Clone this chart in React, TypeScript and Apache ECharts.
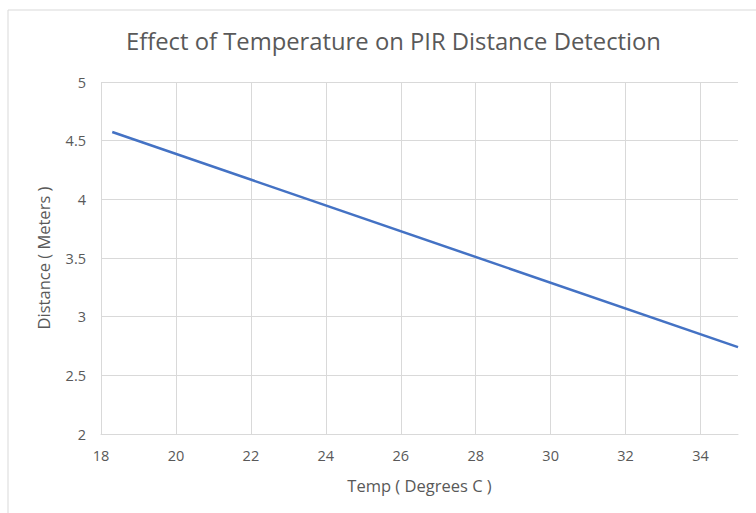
import React, { useEffect, useRef } from "react";
import * as echarts from "echarts";

const temps = [18.3, 35];
const distances = [4.574, 2.74];
const xTicks = [18, 20, 22, 24, 26, 28, 30, 32, 34];

export default function App() {
  const ref = useRef<HTMLDivElement>(null);
  useEffect(() => {
    const chart = echarts.init(ref.current!, null, { renderer: "svg" });
    const font = "'Open Sans', sans-serif";
    const grid = "#d9d9d9";
    chart.setOption({
      animation: false,
      backgroundColor: "#ffffff",
      title: {
        text: "Effect of Temperature on PIR Distance Detection",
        left: 121,
        top: 24,
        textStyle: { fontFamily: font, fontSize: 23.8, fontWeight: "normal", color: "#595959" },
      },
      graphic: [
        {
          type: "line",
          shape: { x1: 8, y1: 10, x2: 756, y2: 10 },
          style: { stroke: grid, lineWidth: 1 },
        },
        {
          type: "line",
          shape: { x1: 8, y1: 10, x2: 8, y2: 513 },
          style: { stroke: grid, lineWidth: 1 },
        },
      ],
      grid: { left: 101, right: 18, top: 82, bottom: 79 },
      xAxis: {
        type: "value",
        min: 18,
        max: 35,
        interval: 2,
        name: "Temp ( Degrees C )",
        nameLocation: "middle",
        nameGap: 43,
        nameTextStyle: { fontFamily: font, fontSize: 16.5, color: "#595959" },
        axisLine: { show: true, lineStyle: { color: grid, width: 1 } },
        axisTick: { show: false },
        axisLabel: {
          showMaxLabel: false,
          fontFamily: font,
          fontSize: 14.5,
          color: "#595959",
          margin: 14,
          formatter: (v: number) => (xTicks.includes(v) ? String(v) : ""),
        },
        splitLine: {
          show: true,
          lineStyle: {
            color: [grid, grid, grid, grid, grid, grid, grid, grid, grid, "rgba(0,0,0,0)"],
            width: 1,
          },
        },
      },
      yAxis: {
        type: "value",
        min: 2,
        max: 5,
        interval: 0.5,
        name: "Distance ( Meters )",
        nameLocation: "middle",
        nameGap: 49,
        nameTextStyle: { fontFamily: font, fontSize: 16.5, color: "#595959" },
        axisLine: { show: false },
        axisTick: { show: false },
        axisLabel: { fontFamily: font, fontSize: 14.5, color: "#595959", margin: 15 },
        splitLine: { show: true, lineStyle: { color: grid, width: 1 } },
      },
      series: [
        {
          type: "line",
          data: temps.map((t, i) => [t, distances[i]]),
          showSymbol: false,
          lineStyle: { color: "#4472c4", width: 2.5 },
          itemStyle: { color: "#4472c4" },
        },
      ],
    });
    return () => chart.dispose();
  }, []);
  return <div ref={ref} style={{ width: 756, height: 513, position: "absolute", left: 0, top: 0 }} />;
}
